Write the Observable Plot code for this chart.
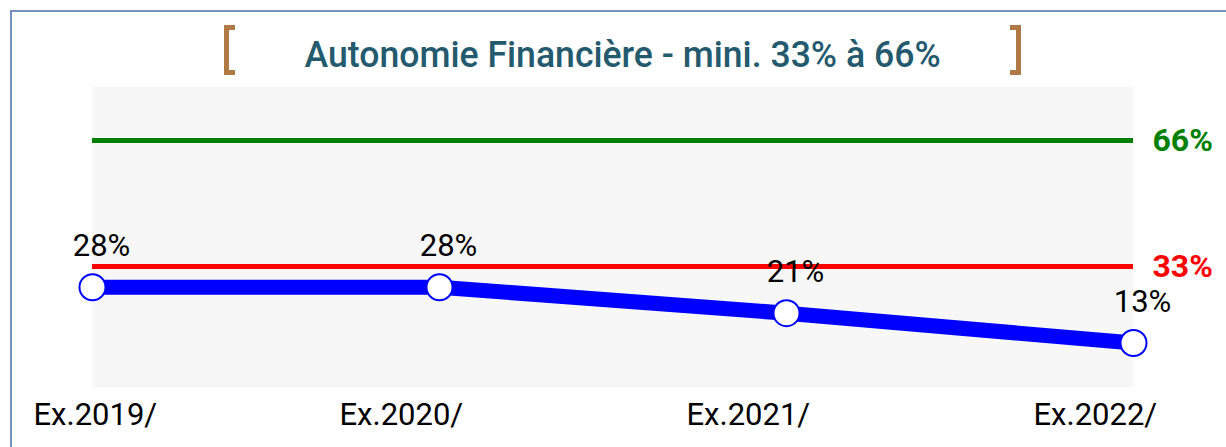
<!DOCTYPE html>
<html><head><meta charset="utf-8">
<script src="https://cdn.jsdelivr.net/npm/d3@7"></script>
<script src="https://cdn.jsdelivr.net/npm/@observablehq/plot@0.6"></script>
<style>
html,body{margin:0;padding:0;background:#fff;overflow:hidden;width:1226px;height:447px;}
#border{position:absolute;left:10px;top:10px;width:1260px;height:480px;border:2px solid #7291bf;box-sizing:border-box;}
#wrap{position:absolute;left:0;top:0;width:1226px;}
#head{position:relative;height:80px;}
#title{position:absolute;left:0;top:36px;width:1246px;text-align:center;font-family:Roboto,sans-serif;font-weight:500;font-size:37px;line-height:37px;color:#235a6e;white-space:nowrap;}
#title span{display:inline-block;transform-origin:50% 50%;}
.br{position:absolute;top:25px;width:6px;height:40px;border:5px solid #b07a46;box-sizing:content-box;}
#bl{left:224px;border-right:none;}
#brr{left:1010px;border-left:none;}
svg{display:block;}
</style></head>
<body>
<div id="border"></div>
<div id="wrap">
  <div id="head">
    <div class="br" id="bl"></div>
    <div id="title"><span id="ttext">Autonomie Financière - mini. 33% à 66%</span></div>
    <div class="br" id="brr"></div>
  </div>
  <div id="chart"></div>
</div>
<script>
const years = ["Ex.2019/", "Ex.2020/", "Ex.2021/", "Ex.2022/"];
const values = [27.6, 27.6, 20.8, 13.0];
const valueLabels = ["28%", "28%", "21%", "13%"];
const thresholds = [66, 33];
const thresholdLabels = ["66%", "33%"];
const thresholdColors = ["#008000", "#ff0000"];

const data = years.map((y, i) => ({year: y, value: values[i], label: valueLabels[i]}));
const th = thresholds.map((v, i) => ({value: v, label: thresholdLabels[i], color: thresholdColors[i]}));

const t = document.getElementById("ttext");
const w = t.getBoundingClientRect().width;
t.style.transform = `scaleX(${636 / w})`;

const chart = Plot.plot({
  width: 1226, height: 367,
  marginLeft: 92, marginRight: 93, marginTop: 6, marginBottom: 60,
  x: {type: "point", domain: years, axis: null, padding: 0},
  y: {domain: [0, 80], range: [312.2, 6.5], axis: null},
  color: {type: "identity"},
  style: {fontFamily: "Roboto, sans-serif", background: "transparent", overflow: "visible", color: "black"},
  marks: [
    Plot.frame({fill: "#f7f7f7", stroke: "none"}),
    Plot.ruleY(th, {y: "value", stroke: "color", strokeWidth: 5}),
    Plot.text(th, {y: "value", text: "label", fill: "color", frameAnchor: "right", textAnchor: "start", dx: 19, fontSize: 32, fontWeight: "bold"}),
    Plot.line(data, {x: "year", y: "value", stroke: "#0000ff", strokeWidth: 15}),
    Plot.dot(data, {x: "year", y: "value", r: 13, fill: "white", stroke: "#0000ff", strokeWidth: 2}),
    Plot.text(data, {x: "year", y: "value", text: "label", dx: 9, dy: -41, fontSize: 31, fill: "black"}),
    Plot.text(data.slice(1), {x: "year", text: "year", frameAnchor: "bottom", dy: 37.5, dx: -100, textAnchor: "start", fontSize: 31, fill: "black"}),
    Plot.text(data.slice(0, 1), {x: "year", text: "year", frameAnchor: "bottom", dy: 37.5, dx: -59, textAnchor: "start", fontSize: 31, fill: "black"})
  ]
});
document.getElementById("chart").appendChild(chart);
</script>
</body></html>
